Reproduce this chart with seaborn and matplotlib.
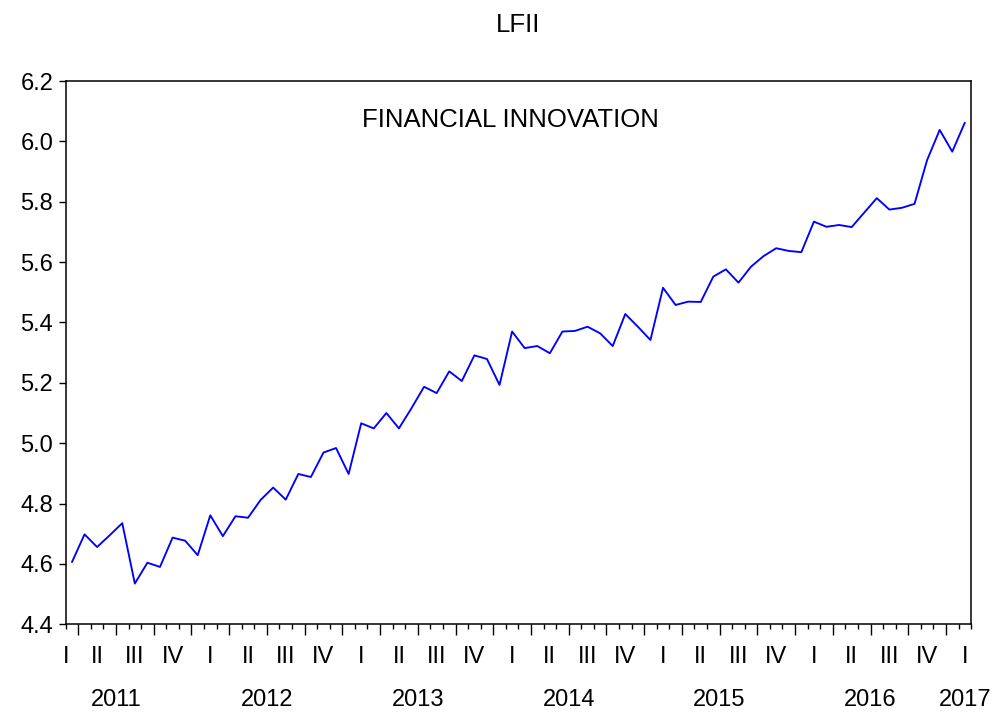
import numpy as np
import pandas as pd
import seaborn as sns
import matplotlib.pyplot as plt
import matplotlib.transforms as mtransforms

# monthly LFII series, 2011M03 - 2017M02
title = "LFII"
series_label = "FINANCIAL INNOVATION"
first_month = "2011-03"
lfii = [
    4.606, 4.698, 4.656, 4.695, 4.735, 4.535, 4.604, 4.590, 4.687, 4.677,
    4.629, 4.761, 4.692, 4.758, 4.753, 4.812, 4.853, 4.813, 4.898, 4.888,
    4.969, 4.984, 4.898, 5.066, 5.049, 5.100, 5.049, 5.116, 5.187, 5.166,
    5.238, 5.206, 5.291, 5.279, 5.193, 5.370, 5.315, 5.322, 5.298, 5.370,
    5.372, 5.386, 5.364, 5.322, 5.428, 5.386, 5.342, 5.515, 5.458, 5.469,
    5.468, 5.552, 5.576, 5.532, 5.585, 5.620, 5.646, 5.637, 5.633, 5.734,
    5.717, 5.723, 5.716, 5.764, 5.812, 5.774, 5.780, 5.793, 5.938, 6.038,
    5.966, 6.062,
]
quarter_names = ["I", "II", "III", "IV"]
y_ticks = [4.4, 4.6, 4.8, 5.0, 5.2, 5.4, 5.6, 5.8, 6.0, 6.2]

periods = pd.period_range(first_month, periods=len(lfii), freq="M")
df = pd.DataFrame({"t": np.arange(len(lfii)), "value": lfii})

sns.set_style("ticks")
plt.rcParams["font.family"] = ["Liberation Sans", "DejaVu Sans"]
plt.rcParams["text.color"] = "black"
plt.rcParams["xtick.color"] = "black"
plt.rcParams["ytick.color"] = "black"

fig = plt.figure(figsize=(9.95, 7.17), dpi=100)
ax = fig.add_axes([0.066, 0.1293, 0.9100, 0.7577])

sns.lineplot(data=df, x="t", y="value", color="#0000ff", linewidth=1.35, ax=ax)

n = len(lfii)
lo, hi = -0.5, n - 0.5
ax.set_xlim(lo, hi)
ax.set_ylim(4.4, 6.2)
ax.set_yticks(y_ticks)
ax.set_yticklabels([f"{v:.1f}" for v in y_ticks], fontsize=17, color="black")
ax.tick_params(axis="y", direction="out", length=5, width=1, colors="black", pad=4)

# month boundaries as minor ticks, quarter boundaries as major ticks
first = periods[0]
offset = first.month - 1  # months since January of first year
month_bounds = np.arange(lo, hi + 0.01, 1.0)
quarter_bounds = [b for b in month_bounds if (b + 0.5 + offset) % 3 == 0 and lo < b < hi]
ax.set_xticks(quarter_bounds)
ax.set_xticks(month_bounds, minor=True)
ax.set_xticklabels([])
ax.tick_params(axis="x", which="major", direction="out", length=8, width=1, colors="black")
ax.tick_params(axis="x", which="minor", direction="out", length=3.5, width=1, colors="black")

for s in ax.spines.values():
    s.set_visible(True)
    s.set_linewidth(1.1)
    s.set_color("black")

ax.set_xlabel("")
ax.set_ylabel("")

trans = mtransforms.blended_transform_factory(ax.transData, ax.transAxes)
years = sorted(set(p.year for p in periods))
for yr in years:
    jan = (yr - first.year) * 12 - offset
    for q, qname in enumerate(quarter_names):
        qstart = jan + 3 * q
        if qstart + 2 < 0 or qstart > n - 1:
            continue
        xq = float(np.clip(qstart + 1, lo, n - 1))
        ax.text(xq, -0.06, qname, transform=trans, ha="center", va="center",
                fontsize=17, color="black")
    xy = float(np.clip(jan + 5.5, lo, n - 1))
    ax.text(xy, -0.139, str(yr), transform=trans, ha="center", va="center",
            fontsize=17, color="black")

ax.text(0.491, 0.928, series_label, transform=ax.transAxes, ha="center",
        va="center", fontsize=18.5, color="black")
fig.text(0.521, 0.965, title, ha="center", va="center", fontsize=18.5,
         color="black")

fig.savefig("out.png", dpi=100)
